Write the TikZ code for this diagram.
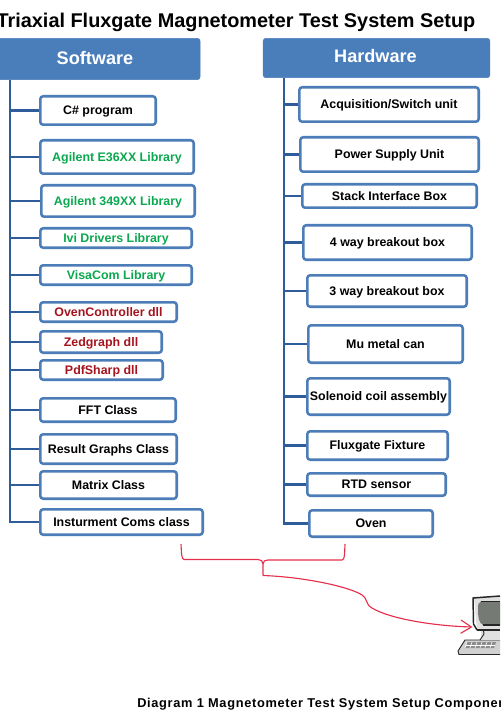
\documentclass[tikz,border=0pt]{standalone}
\usepackage{fontspec}
\setmainfont{Liberation Sans}
\usetikzlibrary{arrows.meta}
\definecolor{headblue}{HTML}{4A7EBB}
\definecolor{edgeblue}{HTML}{4C7DB8}
\definecolor{trunkblue}{HTML}{2F5C9A}
\definecolor{libgreen}{HTML}{0BA84F}
\definecolor{dllred}{HTML}{A5141E}
\definecolor{linkred}{HTML}{E5304C}
\definecolor{screengray}{HTML}{757A74}
\newcommand{\itembox}[7][black]{% colour, name, l, t, r, b, text
  \node[itemstyle,text=#1,minimum width={(#5-#3)*0.75pt-1.9pt},minimum height={(#6-#4)*0.75pt-1.9pt}] (#2) at ({(#3+#5)/2},{(#4+#6)/2}) {\raisebox{-1.6pt}[5pt][2pt]{#7}};}
\tikzset{
  x=0.75pt,y=-0.75pt,
  headstyle/.style={fill=headblue,draw=headblue,rounded corners=2pt,line width=0.4pt,inner sep=0pt,text=white,font=\fontsize{13.6}{16}\selectfont\bfseries},
  itemstyle/.style={draw=edgeblue,fill=white,line width=1.9pt,rounded corners=2.2pt,inner sep=0pt,font=\fontsize{9.3}{11}\selectfont\bfseries},
  trunk/.style={draw=trunkblue,line width=2.1pt},
  branch/.style={draw=trunkblue,line width=2.1pt},
  linkline/.style={draw=linkred,line width=0.85pt},
}
\begin{document}
\begin{tikzpicture}
\useasboundingbox (0,0) rectangle (500,720);
\clip (0,0) rectangle (500,720);
\fill[white] (0,0) rectangle (500,720);
\node[font=\fontsize{14.9}{17}\selectfont\bfseries,text=black] (title) at (236,22) {Triaxial Fluxgate Magnetometer Test System Setup};
\node[headstyle,minimum width=153pt,minimum height=31pt] (soft) at (98,59) {};
\node[text=white,font=\fontsize{13.6}{16}\selectfont\bfseries,inner sep=0pt] (softtext) at (95,58) {Software};
\node[headstyle,minimum width=170pt,minimum height=29.5pt] (hard) at (376.5,58) {};
\node[text=white,font=\fontsize{13.6}{16}\selectfont\bfseries,inner sep=0pt] (hardtext) at (375.5,56) {Hardware};
% software items
\itembox{s1}{39}{95}{157}{126}{C\# program}
\itembox[libgreen]{s2}{39}{139}{195}{175}{Agilent E36XX Library}
\itembox[libgreen]{s3}{40}{184}{196}{218}{Agilent 349XX Library}
\itembox[libgreen]{s4}{39}{227}{193}{249}{Ivi Drivers Library}
\itembox[libgreen]{s5}{39}{264}{193}{286}{VisaCom Library}
\itembox[dllred]{s6}{39}{301}{178}{323}{OvenController dll}
\itembox[dllred]{s7}{39}{330}{163}{354}{Zedgraph dll}
\itembox[dllred]{s8}{39}{359}{164}{381}{PdfSharp dll}
\itembox{s9}{39}{397}{177}{423}{FFT Class}
\itembox{s10}{39}{433}{178}{465}{Result Graphs Class}
\itembox{s11}{39}{470}{178}{500}{Matrix Class}
\itembox{s12}{39}{508}{204}{536}{Insturment Coms class}
% hardware items
\itembox{h1}{298}{86}{480}{123}{Acquisition/Switch unit}
\itembox{h2}{299}{136}{480}{173}{Power Supply Unit}
\itembox{h3}{301}{183}{478}{209}{Stack Interface Box}
\itembox{h4}{302}{224}{473}{261}{4 way breakout box}
\itembox{h5}{306}{274}{468}{308}{3 way breakout box}
\itembox{h6}{307}{324}{464}{364}{Mu metal can}
\itembox{h7}{306}{377}{451}{416}{Solenoid coil assembly}
\itembox{h8}{306}{430}{449}{461}{Fluxgate Fixture}
\itembox{h9}{306}{472}{447}{497}{RTD sensor}
\itembox{h10}{308}{509}{434}{538}{Oven}
% trunks and branches
\coordinate (st) at (10,80);
\coordinate (ht) at (284,78);
\draw[trunk,line join=miter] (st) -- (10,522) -- (s12.west);
\foreach \n in {s1,s2,s3,s4,s5,s6,s7,s8,s9,s10,s11}{\draw[branch] (\n.west) -- (\n.west -| st);}
\draw[trunk,line join=miter] (ht) -- (284,523.5) -- (h10.west);
\foreach \n in {h1,h2,h3,h4,h5,h6,h7,h8,h9}{\draw[branch] (\n.west) -- (\n.west -| ht);}
% computer
\begin{scope}[line width=0.7pt,draw=black!85]
  \fill[black!18] (458,651) -- (465,640) -- (500,640) -- (500,654.5) -- (459,654.5) -- cycle;
  \draw (458,651) -- (465,640) -- (500,640) (458,651) -- (459,654.5) -- (500,654.5);
  \fill[black!45] (467,642) -- (496,642) -- (494,648) -- (465,648) -- cycle;
  \foreach \i in {0,...,5}{\draw[white,line width=0.45pt] ({467+5*\i},{642}) -- ({465+5*\i},{648});}
  \draw[white,line width=0.45pt] (466,645) -- (495,645);
  \fill[black!12] (481,628) rectangle (500,640);
  \draw (483,628) -- (484,634) -- (480,640);
  \fill[black!12] (474,597) -- (500,596) -- (500,630) -- (477,630) -- cycle;
  \draw[line width=1.1pt] (477,630) -- (473.5,624) -- (473,598) -- (500,596);
  \draw[line width=1.1pt] (477,630) -- (500,630);
  \fill[screengray] (481,601.5) -- (500,601.5) -- (500,625) -- (483,625) .. controls (479,623) and (478,618) .. (478,608) .. controls (478,604) and (479,602) .. (481,601.5) -- cycle;
  \draw[line width=0.8pt] (481,601.5) -- (500,601.5) (483,625) -- (500,625);
\end{scope}
\coordinate (pc) at (472.5,627);
% link
\coordinate (bl) at (181,544);
\coordinate (br) at (345,544);
\coordinate (bm) at (263,575.5);
\draw[linkline] (bl) .. controls (181.5,553) and (181.5,559.5) .. (184,559.5) -- (258,559.5) .. controls (261,559.5) and (263,561) .. (263,564) -- (bm);
\draw[linkline] (br) .. controls (344.5,553) and (345,560) .. (342,560) -- (268,560) .. controls (265,560) and (263,561) .. (263,564);
\draw[linkline,-{Straight Barb[length=8pt,width=10pt]}] (bm) .. controls (305,577) and (350,587) .. (362,595) .. controls (368,599) and (365,604) .. (372,608) .. controls (390,619) and (435,626) .. (pc);
\node[font=\fontsize{9.6}{11}\selectfont\bfseries,anchor=west,inner sep=0pt] (cap) at (137,704) {\addfontfeature{LetterSpace=5.3}Diagram 1 Magnetometer Test System Setup Components};
\end{tikzpicture}
\end{document}
